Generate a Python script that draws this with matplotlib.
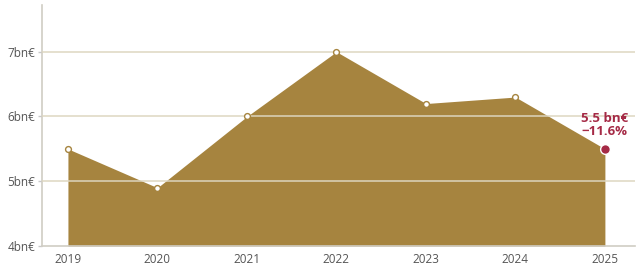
import matplotlib
matplotlib.use("Agg")
import matplotlib.pyplot as plt

years = [2019, 2020, 2021, 2022, 2023, 2024, 2025]
values = [5.5, 4.9, 6.0, 7.0, 6.2, 6.3, 5.5]
yticks = [4, 5, 6, 7]
ytick_labels = ["4bn€", "5bn€", "6bn€", "7bn€"]
annotation = "5.5 bn€\n\u221211.6%"

plt.rcParams['font.family'] = ['Open Sans', 'DejaVu Sans']

fill_color = "#a6843f"
red = "#a52a46"
text_grey = "#555555"

fig = plt.figure(figsize=(6.4, 2.69), dpi=100)
ax = fig.add_axes([0.0656, 0.0855, 0.9264, 0.8955])

ax.fill_between(years, values, 4, color=fill_color, linewidth=0, zorder=1)
ax.plot(years[:-1], values[:-1], linestyle='none', marker='o', markersize=4.2,
        markerfacecolor='white', markeredgecolor=fill_color, markeredgewidth=1, zorder=4)
ax.plot(years[-1:], values[-1:], linestyle='none', marker='o', markersize=7,
        markerfacecolor=red, markeredgecolor='white', markeredgewidth=1, zorder=5)

for t in yticks[1:]:
    ax.axhline(t, color="#ddd6c0", linewidth=1.2, zorder=3, alpha=0.9)

ax.annotate(annotation, (years[-1], values[-1]), xytext=(0, 8), textcoords='offset points',
            ha='center', va='bottom', color=red, fontsize=9.5, fontweight='bold',
            linespacing=1.0)

ax.set_xlim(2018.71, 2025.335)
ax.set_ylim(4, 7.72)
ax.set_xticks(years)
ax.set_xticklabels([str(y) for y in years])
ax.set_yticks(yticks)
ax.set_yticklabels(ytick_labels)
ax.tick_params(axis='x', length=0, labelsize=8.5, colors=text_grey, pad=5)
ax.tick_params(axis='y', length=3, width=1, color="#c8c8c8", labelsize=8.5, colors=text_grey, pad=2)
ax.tick_params(axis='y', colors="#c8c8c8", labelcolor=text_grey)

for s in ['top', 'right']:
    ax.spines[s].set_visible(False)
for s in ['left', 'bottom']:
    ax.spines[s].set_color("#d0cdc4")
    ax.spines[s].set_linewidth(1.2)

fig.savefig("out.png", dpi=100)
